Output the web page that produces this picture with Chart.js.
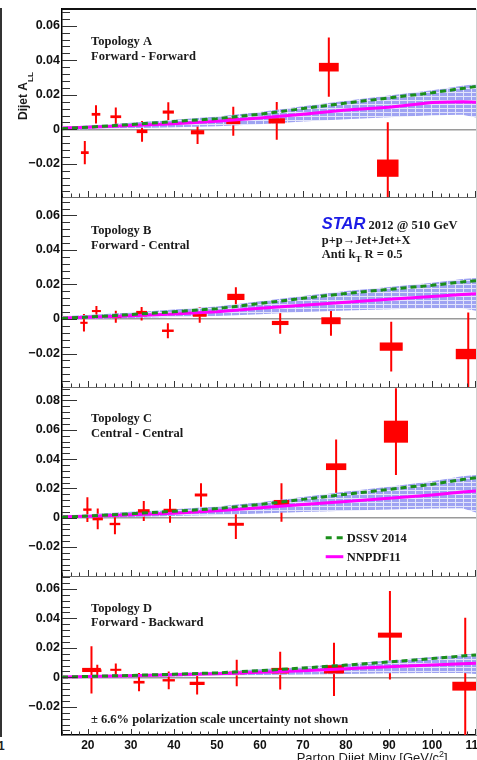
<!DOCTYPE html>
<html>
<head>
<meta charset="utf-8">
<title>Dijet A_LL</title>
<script src="https://cdn.jsdelivr.net/npm/chart.js"></script>
<style>
  html, body { margin: 0; padding: 0; background: #fff; overflow: hidden; }
  #wrap { position: relative; width: 477px; height: 760px; overflow: hidden; }
  #wrap canvas { position: absolute; left: 0; }
  .edge { position: absolute; left: 0; top: 8px; width: 2px; height: 729px; background: #333; }
  .edgeNum { position: absolute; left: -2px; top: 739px; font: bold 12px 'Liberation Sans', Arial, sans-serif; color: #222; }
</style>
</head>
<body>
<div id="wrap">
  <div class="edge"></div>
  <div class="edgeNum">1</div>
</div>
<script>
// axis labels
const xTickLabels = [20, 30, 40, 50, 60, 70, 80, 90, 100, 110];
const yTicksABD = [-0.02, 0, 0.02, 0.04, 0.06];
const yTicksC = [-0.02, 0, 0.02, 0.04, 0.06, 0.08];

// theory curves are tabulated on one mass grid
const theoryMass = [14, 20, 30, 40, 50, 60, 70, 80, 90, 100, 107, 110.2];

// Topology A: Forward - Forward
const massA = [19.3, 21.9, 26.5, 32.6, 38.7, 45.5, 53.8, 63.9, 76.0, 89.7];
const allA  = [-0.0135, 0.0087, 0.0073, -0.0012, 0.0100, -0.0017, 0.0047, 0.0049, 0.0360, -0.0225];
const statA = [0.0068, 0.0053, 0.0054, 0.0060, 0.0057, 0.0068, 0.0084, 0.0110, 0.0172, 0.0266];
const sysA  = [0.0008, 0.0008, 0.0008, 0.0010, 0.0009, 0.0012, 0.0017, 0.0015, 0.0025, 0.0050];
const binA  = [0.9, 1.0, 1.25, 1.25, 1.3, 1.55, 1.63, 1.9, 2.3, 2.5];
const dssvA   = [0.0004, 0.0012, 0.0028, 0.0045, 0.0062, 0.0088, 0.0120, 0.0152, 0.0182, 0.0212, 0.0237, 0.0248];
const nnpdfA  = [0.0008, 0.0012, 0.0022, 0.0033, 0.0047, 0.0066, 0.0088, 0.0112, 0.0128, 0.0155, 0.0160, 0.0157];
const bandLoA = [-0.0004, 0.0000, 0.0006, 0.0012, 0.0018, 0.0030, 0.0045, 0.0058, 0.0070, 0.0082, 0.0085, 0.0068];
const bandHiA = [0.0015, 0.0022, 0.0038, 0.0056, 0.0074, 0.0100, 0.0133, 0.0165, 0.0196, 0.0226, 0.0252, 0.0262];

// Topology B: Forward - Central
const massB = [19.1, 22.0, 26.5, 32.5, 38.6, 46.0, 54.4, 64.7, 76.5, 90.5, 108.4];
const allB  = [-0.0022, 0.0046, 0.0013, 0.0031, -0.0068, 0.0023, 0.0128, -0.0023, -0.0010, -0.0160, -0.0203];
const statB = [0.0051, 0.0029, 0.0035, 0.0039, 0.0044, 0.0045, 0.0056, 0.0062, 0.0087, 0.0144, 0.0240];
const sysB  = [0.0006, 0.0006, 0.0008, 0.0016, 0.0007, 0.0010, 0.0018, 0.0012, 0.0020, 0.0024, 0.0030];
const binB  = [0.85, 1.05, 1.28, 1.25, 1.36, 1.6, 2.0, 1.93, 2.24, 2.67, 2.9];
const dssvB   = [0.0004, 0.0011, 0.0026, 0.0042, 0.0060, 0.0090, 0.0120, 0.0148, 0.0172, 0.0195, 0.0215, 0.0222];
const nnpdfB  = [0.0006, 0.0010, 0.0019, 0.0029, 0.0042, 0.0062, 0.0080, 0.0097, 0.0115, 0.0130, 0.0142, 0.0146];
const bandLoB = [-0.0004, 0.0000, 0.0006, 0.0012, 0.0018, 0.0028, 0.0040, 0.0050, 0.0057, 0.0062, 0.0063, 0.0048];
const bandHiB = [0.0016, 0.0023, 0.0038, 0.0055, 0.0073, 0.0103, 0.0133, 0.0162, 0.0186, 0.0210, 0.0232, 0.0238];

// Topology C: Central - Central
const massC = [19.9, 22.3, 26.3, 33.0, 39.1, 46.3, 54.4, 65.0, 77.7, 91.6];
const allC  = [0.0055, -0.0008, -0.0043, 0.0046, 0.0047, 0.0155, -0.0045, 0.0104, 0.0348, 0.0587];
const statC = [0.0085, 0.0071, 0.0070, 0.0068, 0.0081, 0.0080, 0.0100, 0.0131, 0.0186, 0.0296];
const sysC  = [0.0008, 0.0010, 0.0008, 0.0012, 0.0014, 0.0010, 0.0010, 0.0017, 0.0023, 0.0075];
const binC  = [0.97, 1.2, 1.24, 1.36, 1.5, 1.45, 1.86, 1.8, 2.36, 2.8];
const dssvC   = [0.0004, 0.0012, 0.0027, 0.0044, 0.0062, 0.0090, 0.0125, 0.0160, 0.0193, 0.0228, 0.0260, 0.0272];
const nnpdfC  = [0.0006, 0.0010, 0.0020, 0.0031, 0.0047, 0.0068, 0.0090, 0.0110, 0.0132, 0.0155, 0.0175, 0.0183];
const bandLoC = [-0.0005, -0.0001, 0.0005, 0.0011, 0.0018, 0.0028, 0.0038, 0.0048, 0.0056, 0.0062, 0.0064, 0.0035];
const bandHiC = [0.0016, 0.0024, 0.0040, 0.0058, 0.0077, 0.0106, 0.0142, 0.0178, 0.0212, 0.0248, 0.0282, 0.0292];

// Topology D: Forward - Backward
const massD = [20.85, 22.2, 26.5, 31.9, 38.8, 45.4, 54.6, 64.7, 77.2, 90.2, 107.7];
const allD  = [0.0050, 0.0045, 0.0051, -0.0033, -0.0020, -0.0041, 0.0030, 0.0045, 0.0054, 0.0286, -0.0060];
const statD = [0.0160, 0.0041, 0.0042, 0.0062, 0.0060, 0.0075, 0.0090, 0.0128, 0.0181, 0.0300, 0.0464];
const sysD  = [0.0014, 0.0009, 0.0007, 0.0009, 0.0008, 0.0011, 0.0009, 0.0019, 0.0028, 0.0017, 0.0030];
const binD  = [2.17, 0.97, 1.28, 1.28, 1.43, 1.74, 1.83, 2.05, 2.33, 2.79, 3.0];
const dssvD   = [0.0002, 0.0006, 0.0013, 0.0021, 0.0030, 0.0045, 0.0063, 0.0083, 0.0105, 0.0127, 0.0145, 0.0152];
const nnpdfD  = [0.0003, 0.0006, 0.0011, 0.0017, 0.0024, 0.0034, 0.0045, 0.0058, 0.0071, 0.0083, 0.0092, 0.0095];
const bandLoD = [-0.0004, -0.0002, 0.0001, 0.0005, 0.0010, 0.0015, 0.0019, 0.0023, 0.0027, 0.0029, 0.0030, 0.0022];
const bandHiD = [0.0010, 0.0014, 0.0021, 0.0030, 0.0039, 0.0054, 0.0072, 0.0092, 0.0114, 0.0137, 0.0155, 0.0160];

const X_MIN = 14, X_MAX = 110.2;
const PAD_T = 20, PAD_B = 20, PAD_R = 24, AXIS_W = 62, XAXIS_H = 25, CANVAS_W = 500;

const sans = "'Liberation Sans', Arial, sans-serif";
const serifB = "bold 12.5px 'Liberation Serif', 'Times New Roman', serif";
const serifSub = "bold 9px 'Liberation Serif', 'Times New Roman', serif";
const starFont = "italic bold 16.5px " + sans;
const titleFont = "13px " + sans;
const titleSup = "9px " + sans;

const line = (x, y, text, font) => ({ x, y, runs: [{ text, font: font || serifB }] });

const panels = [
  {
    top: 9, height: 188, yMin: -0.0392, yMax: 0.0697, yTicks: yTicksABD,
    mass: massA, asym: allA, stat: statA, sys: sysA, bin: binA,
    dssv: dssvA, nnpdf: nnpdfA, bandLo: bandLoA, bandHi: bandHiA,
    frameTop: true, yTitle: true,
    labels: [line(91, 35.5, 'Topology A'), line(91, 51, 'Forward - Forward')]
  },
  {
    top: 197, height: 190, yMin: -0.0394, yMax: 0.0707, yTicks: yTicksABD,
    mass: massB, asym: allB, stat: statB, sys: sysB, bin: binB,
    dssv: dssvB, nnpdf: nnpdfB, bandLo: bandLoB, bandHi: bandHiB,
    labels: [
      line(91, 37, 'Topology B'), line(91, 51.5, 'Forward - Central'),
      { x: 321.7, y: 32, runs: [{ text: 'STAR', font: starFont, color: '#1c1ce6' }, { text: ' 2012 @ 510 GeV', font: serifB }] },
      line(321.7, 47, 'p+p\u2192Jet+Jet+X'),
      { x: 321.7, y: 61.3, runs: [{ text: 'Anti k', font: serifB }, { text: 'T', font: serifSub, dy: 3.5 }, { text: ' R = 0.5', font: serifB }] }
    ]
  },
  {
    top: 387, height: 189, yMin: -0.0398, yMax: 0.0892, yTicks: yTicksC,
    mass: massC, asym: allC, stat: statC, sys: sysC, bin: binC,
    dssv: dssvC, nnpdf: nnpdfC, bandLo: bandLoC, bandHi: bandHiC,
    legend: true,
    labels: [line(91, 34.5, 'Topology C'), line(91, 49.5, 'Central - Central')]
  },
  {
    top: 576, height: 159, yMin: -0.0391, yMax: 0.0687, yTicks: yTicksABD,
    mass: massD, asym: allD, stat: statD, sys: sysD, bin: binD,
    dssv: dssvD, nnpdf: nnpdfD, bandLo: bandLoD, bandHi: bandHiD,
    xLabels: true,
    labels: [
      line(91, 35.5, 'Topology D'), line(91, 50, 'Forward - Backward'),
      line(91, 147.3, '\u00b1 6.6% polarization scale uncertainty not shown'),
      { x: 296.7, y: 185.7, runs: [{ text: 'Parton Dijet Minv [GeV/c', font: titleFont }, { text: '2', font: titleSup, dy: -5 }, { text: ']', font: titleFont }] }
    ]
  }
];

function pairs(xs, ys) {
  return xs.map((x, i) => ({ x, y: ys[i] }));
}

// vertical statistical bars, one segment per point, split by gaps
function statSegments(xs, ys, es) {
  const pts = [];
  xs.forEach((x, i) => {
    pts.push({ x, y: ys[i] - es[i] }, { x, y: ys[i] + es[i] }, { x, y: null });
  });
  return pts;
}

function hatch() {
  const t = document.createElement('canvas');
  t.width = 8; t.height = 4;
  const g = t.getContext('2d');
  g.fillStyle = '#9ea3f2';
  g.fillRect(0, 0, 8, 4);
  g.fillStyle = 'rgba(255,255,255,0.7)';
  g.fillRect(0, 3, 8, 1);
  g.fillRect(7, 0, 1, 3);
  return g.createPattern(t, 'repeat');
}
const bandFill = hatch();

function fmt(v) {
  if (v === 0) return '0';
  return (v < 0 ? '\u2212' : '') + Math.abs(v).toFixed(2);
}

function drawRuns(ctx, x, y, runs) {
  for (const r of runs) {
    ctx.font = r.font;
    ctx.fillStyle = r.color || '#1a1a1a';
    ctx.fillText(r.text, x, y + (r.dy || 0));
    x += ctx.measureText(r.text).width;
  }
}

// systematic boxes sit on top of the theory band
function sysBoxes(p) {
  return {
    id: 'sysBoxes',
    afterDatasetDraw(chart, args) {
      if (chart.data.datasets[args.index].label !== 'band') return;
      const { ctx, chartArea: a, scales: { x, y } } = chart;
      ctx.save();
      ctx.beginPath();
      ctx.rect(a.left, a.top, a.width, a.height);
      ctx.clip();
      ctx.fillStyle = '#ff0000';
      p.mass.forEach((m, i) => {
        const x0 = x.getPixelForValue(m - p.bin[i]);
        const x1 = x.getPixelForValue(m + p.bin[i]);
        const y0 = y.getPixelForValue(p.asym[i] + p.sys[i]);
        const y1 = y.getPixelForValue(p.asym[i] - p.sys[i]);
        ctx.fillRect(x0, y0, x1 - x0, y1 - y0);
      });
      ctx.restore();
    }
  };
}

// inward tick marks, frame edges and the text inside each pad
function decorations(p) {
  return {
    id: 'decorations',
    afterDraw(chart) {
      const { ctx, chartArea: a, scales: { x, y } } = chart;
      ctx.save();
      ctx.strokeStyle = '#333';
      ctx.lineWidth = 1;
      ctx.beginPath();
      for (let k = Math.ceil(p.yMin / 0.004); k * 0.004 <= p.yMax; k++) {
        const py = Math.round(y.getPixelForValue(k * 0.004)) + 0.5;
        ctx.moveTo(a.left, py);
        ctx.lineTo(a.left + (k % 5 === 0 ? 15 : 8), py);
      }
      for (let k = Math.ceil(X_MIN / 2); k * 2 <= X_MAX; k++) {
        const px = Math.round(x.getPixelForValue(k * 2)) + 0.5;
        ctx.moveTo(px, a.bottom);
        ctx.lineTo(px, a.bottom - (k % 5 === 0 ? 6 : 3.5));
      }
      ctx.stroke();

      // frame
      ctx.strokeStyle = '#d0d0d0';
      ctx.beginPath();
      ctx.moveTo(a.right + 0.5, a.top);
      ctx.lineTo(a.right + 0.5, a.bottom);
      ctx.stroke();
      if (!p.xLabels) {
        ctx.strokeStyle = '#6a6a6a';
        ctx.beginPath();
        ctx.moveTo(a.left, Math.round(a.bottom) + 0.5);
        ctx.lineTo(a.right, Math.round(a.bottom) + 0.5);
        ctx.stroke();
      }
      if (p.frameTop) {
        ctx.strokeStyle = '#111';
        ctx.lineWidth = 2;
        ctx.beginPath();
        ctx.moveTo(a.left, a.top);
        ctx.lineTo(a.right, a.top);
        ctx.stroke();
      }

      ctx.textBaseline = 'alphabetic';
      ctx.textAlign = 'left';
      for (const l of p.labels) drawRuns(ctx, l.x, a.top + l.y, l.runs);

      if (p.legend) {
        const items = [
          { y: 150.7, text: 'DSSV 2014', color: '#1a8f1a', dash: [6, 5] },
          { y: 169.7, text: 'NNPDF11', color: '#ff00ff', dash: [] }
        ];
        for (const it of items) {
          ctx.strokeStyle = it.color;
          ctx.lineWidth = 3;
          ctx.setLineDash(it.dash);
          ctx.beginPath();
          ctx.moveTo(325.7, a.top + it.y);
          ctx.lineTo(343.3, a.top + it.y);
          ctx.stroke();
          ctx.setLineDash([]);
          drawRuns(ctx, 346.7, a.top + it.y + 4, [{ text: it.text, font: serifB }]);
        }
      }

      if (p.yTitle) {
        ctx.translate(26.5, a.top + 111);
        ctx.rotate(-Math.PI / 2);
        drawRuns(ctx, 0, 0, [
          { text: 'Dijet A', font: 'bold 12px ' + sans },
          { text: 'LL', font: 'bold 8px ' + sans, dy: 6 }
        ]);
      }
      ctx.restore();
    }
  };
}

function makePanel(p) {
  const h = p.height + PAD_T + (p.xLabels ? XAXIS_H : PAD_B);
  const cv = document.createElement('canvas');
  cv.width = CANVAS_W;
  cv.height = h;
  cv.style.width = CANVAS_W + 'px';
  cv.style.height = h + 'px';
  cv.style.top = (p.top - PAD_T) + 'px';
  document.getElementById('wrap').appendChild(cv);

  return new Chart(cv, {
    type: 'line',
    data: {
      datasets: [
        { label: 'stat', data: statSegments(p.mass, p.asym, p.stat), borderColor: '#ff0000', borderWidth: 2,
          pointRadius: 0, spanGaps: false, order: 5, clip: 0 },
        { label: 'bandLo', data: pairs(theoryMass, p.bandLo), borderColor: 'rgba(0,0,0,0)', borderWidth: 1,
          pointRadius: 0, fill: false, order: 4, clip: 0 },
        { label: 'band', data: pairs(theoryMass, p.bandHi), borderColor: 'rgba(0,0,0,0)', borderWidth: 1,
          backgroundColor: bandFill, pointRadius: 0, fill: '-1', order: 3, clip: 0 },
        { label: 'NNPDF11', data: pairs(theoryMass, p.nnpdf), borderColor: '#ff00ff', borderWidth: 3,
          pointRadius: 0, order: 2, clip: 0 },
        { label: 'DSSV 2014', data: pairs(theoryMass, p.dssv), borderColor: '#1a8f1a', borderWidth: 3,
          borderDash: [6, 4], pointRadius: 0, order: 1, clip: 0 }
      ]
    },
    options: {
      responsive: false,
      animation: false,
      events: [],
      layout: { padding: { top: PAD_T, bottom: p.xLabels ? 0 : PAD_B, left: 0, right: PAD_R } },
      plugins: { legend: { display: false }, tooltip: { enabled: false } },
      scales: {
        x: {
          type: 'linear', min: X_MIN, max: X_MAX, display: !!p.xLabels,
          grid: { display: false, drawTicks: false },
          border: { display: true, color: '#000', width: 1.5 },
          ticks: { autoSkip: false, maxRotation: 0, padding: 3, color: '#111',
                   font: { family: sans, size: 12, weight: 'bold' } },
          afterBuildTicks: s => { s.ticks = xTickLabels.map(v => ({ value: v })); },
          afterFit: s => { s.height = p.xLabels ? XAXIS_H : 0; s.paddingLeft = 0; s.paddingRight = 0; }
        },
        y: {
          type: 'linear', min: p.yMin, max: p.yMax,
          grid: { drawTicks: false, lineWidth: 1.5,
                  color: c => (c.tick && c.tick.value === 0 ? '#9a9a9a' : 'rgba(0,0,0,0)') },
          border: { display: true, color: '#000', width: 1.5 },
          ticks: { padding: 2, color: '#111', font: { family: sans, size: 12.5, weight: 'bold' }, callback: fmt },
          afterBuildTicks: s => { s.ticks = p.yTicks.map(v => ({ value: v })); },
          afterFit: s => { s.width = AXIS_W; s.paddingTop = 0; s.paddingBottom = 0; }
        }
      }
    },
    plugins: [sysBoxes(p), decorations(p)]
  });
}

panels.forEach(makePanel);
</script>
</body>
</html>
